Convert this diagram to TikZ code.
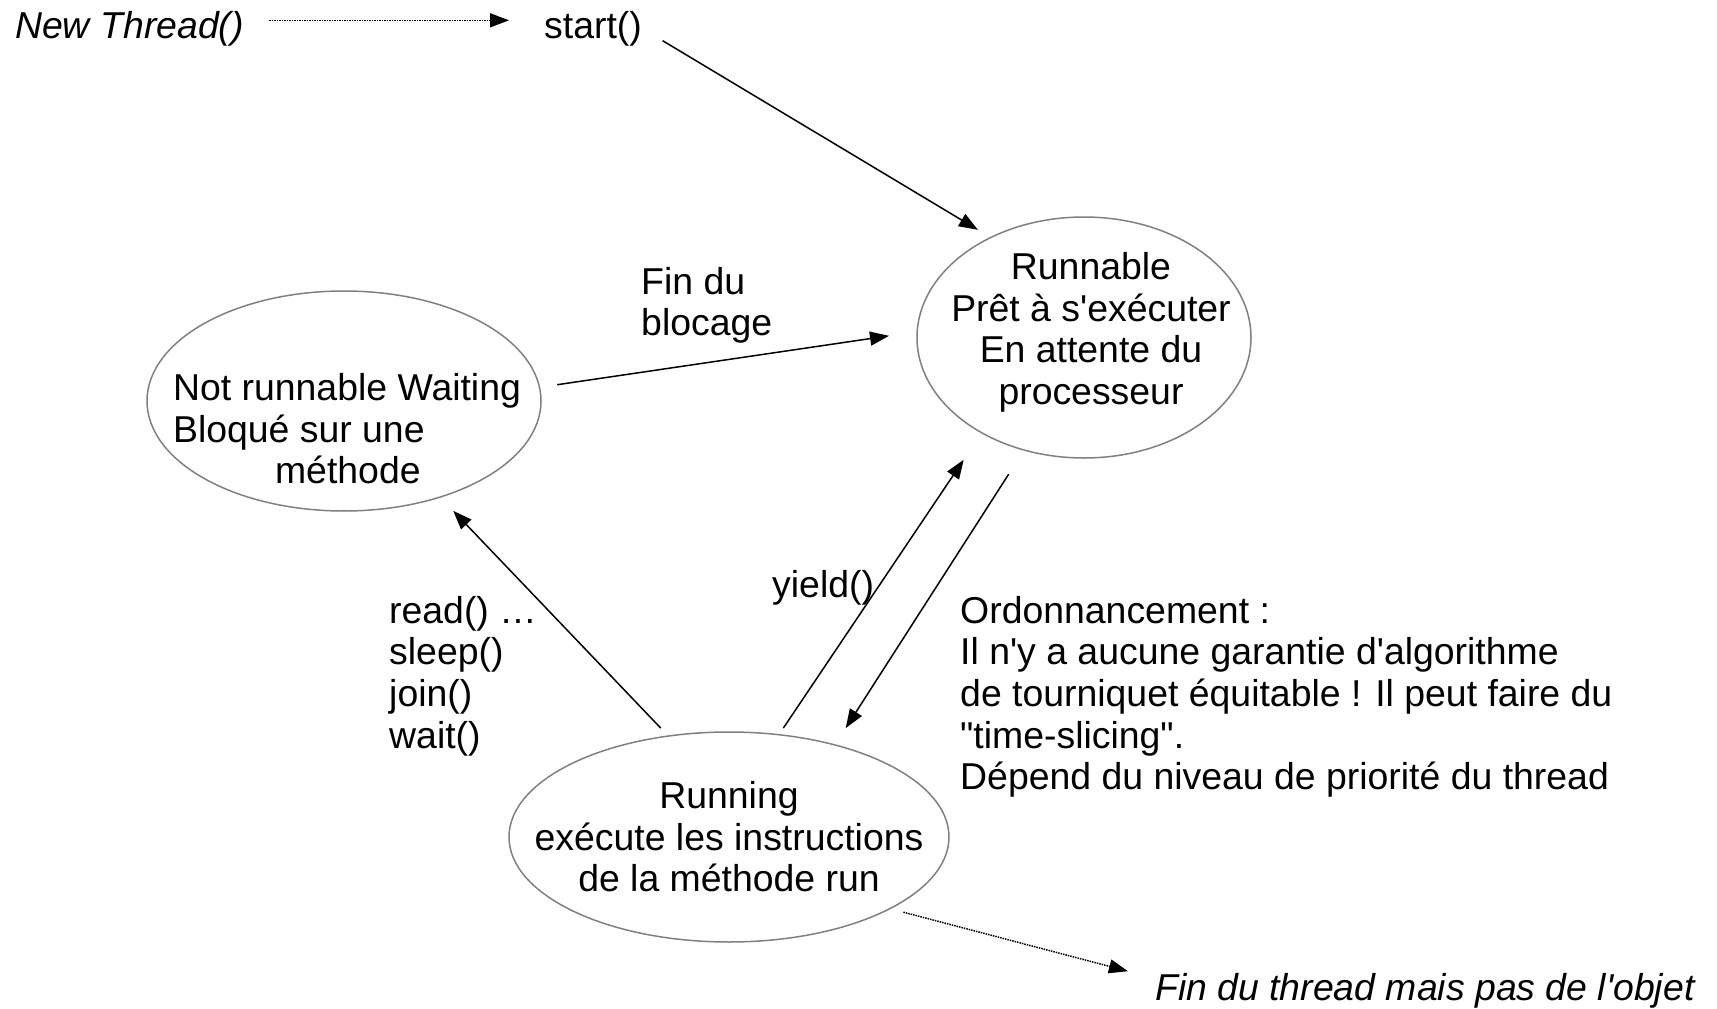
\documentclass[tikz,border=0pt]{standalone}
\usepackage{fontspec}
\setmainfont{Liberation Sans}[Ligatures=TeXOff]
\usepackage{tikz}
\usetikzlibrary{
    shapes.geometric,
    positioning,
    arrows.meta
}
\tikzset{
    >={Triangle[length=19pt,width=14pt]},
    etat/.style={
        ellipse,
        draw=gray,
        line width=1.5pt,
        inner sep=0pt,
        outer sep=0pt
    },
    txt/.style={
        font=\fontsize{37.4}{41.6}\selectfont,
        inner sep=0pt
    },
    fleche/.style={
        ->,
        line width=1.5pt
    }
}

\begin{document}
\begin{tikzpicture}[
    x=1pt,
    y=-1pt
]
    \useasboundingbox (0,0) rectangle (1717,1009);

    % Etats
    \node[etat, minimum width=334pt, minimum height=241pt,
          label={[txt, align=center, xshift=7pt, yshift=5pt]center:{Runnable\\Prêt à s'exécuter\\En attente du\\processeur}}]
          (runnable) at (1084,337.5) {};
    \node[etat, minimum width=394pt, minimum height=220pt,
          label={[txt, align=left, xshift=3pt, yshift=-28pt]center:{Not runnable Waiting\\Bloqué sur une\\\hspace*{102pt}méthode}}]
          (notrun) at (344,401) {};
    \node[etat, minimum width=440pt, minimum height=210pt,
          label={[txt, align=center]center:{Running\\exécute les instructions\\de la méthode run}}]
          (running) at (729,837) {};

    % Textes
    \node[txt, anchor=base west] (newthread) at (15,38)   {\itshape New Thread()};
    \node[txt, anchor=base west] (start)     at (544,38)  {start()};
    \node[txt, anchor=base west] (fin)       at (1155,1000) {\itshape Fin du thread mais pas de l'objet};
    \node[txt, anchor=north west, align=left] (blocage) at (641,267) {Fin du\\blocage};
    \node[txt, anchor=base west] (yield)     at (772,597) {yield()};
    \node[txt, anchor=north west, align=left] (appels) at (389,596) {read() …\\sleep()\\join()\\wait()};
    \node[txt, anchor=north west, align=left] (ordo) at (960,596)
        {Ordonnancement :\\Il n'y a aucune garantie d'algorithme\\de tourniquet équitable ! Il peut faire du\\"time-slicing".\\Dépend du niveau de priorité du thread};

    % Transitions
    \draw[fleche, densely dotted, shorten <=25pt, shorten >=35pt]
        ([yshift=8pt]newthread.east) -- ([yshift=8pt]start.west);
    \draw[fleche, shorten <=24pt, shorten >=15pt] (start.east) -- (runnable.133);
    \draw[fleche, shorten <=18pt, shorten >=28.5pt] (notrun.4.5) -- (runnable.178);
    \draw[fleche, shorten <=11pt, shorten >=19pt] (running.121) -- (notrun.315);
    \draw[fleche, shorten <=8pt, shorten >=32.5pt] (running.64) -- (runnable.223);
    \draw[fleche, shorten <=28.7pt, shorten >=20pt] (runnable.242) -- (running.41);
    \draw[fleche, densely dotted, shorten <=14pt, shorten >=28pt]
        (running.336) -- ([yshift=12pt]fin.west);

\end{tikzpicture}
\end{document}
